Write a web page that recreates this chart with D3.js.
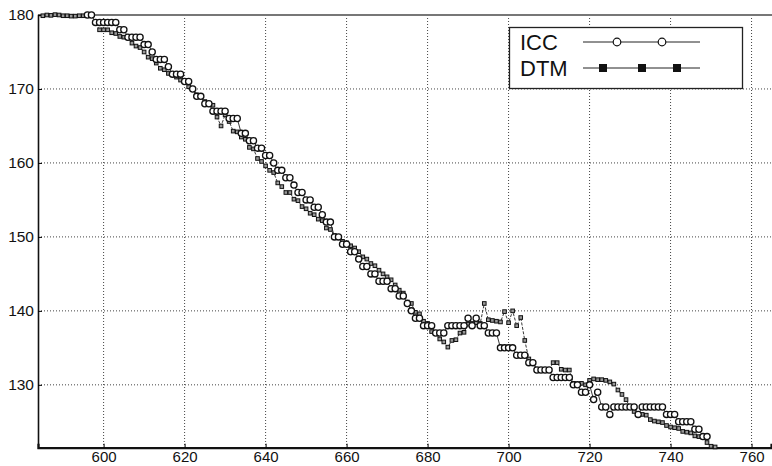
<!DOCTYPE html>
<html><head><meta charset="utf-8">
<script src="https://cdn.jsdelivr.net/npm/d3@7/dist/d3.min.js"></script>
<style>body{margin:0;background:#fff;}svg{display:block;font-family:"Liberation Sans",Arial,sans-serif;}</style>
</head><body>
<svg id="c" width="772" height="466"></svg>
<script>
const xStart = 585;
const xTicks = [600,620,640,660,680,700,720,740,760];
const yTicks = [130,140,150,160,170,180];
const seriesNames = ["ICC","DTM"];
// ICC values for x = 585..751 (null = no point)
const icc = [
 null,null,null,null,null,null,null,null,null,null,null, // 585-595
 180,180,179,179,179,179,179,179,178,178, // 596-605
 177,177,177,177,176,176,175,174,174,174, // 606-615
 173,172,172,172,171,171,170,169,169,168, // 616-625
 168,167,167,167,167,166,166,166,164,164, // 626-635
 163,163,162,162,161,161,160,159,159,158, // 636-645
 158,157,156,156,155,155,154,154,153,152, // 646-655
 152,150,150,149,149,148,148,147,146,146, // 656-665
 145,145,144,144,144,143,143,142,142,141, // 666-675
 140,139,139,138,138,138,137,137,137,138, // 676-685
 138,138,138,138,139,138,139,138,138,137, // 686-695
 137,137,135,135,135,135,134,134,134,133, // 696-705
 133,132,132,132,132,131,131,131,131,131, // 706-715
 130,130,129,129,130,128,129,127,127,126, // 716-725
 127,127,127,127,127,127,126,127,127,127, // 726-735
 127,127,127,126,126,126,125,125,125,125, // 736-745
 124,124,123,123,null,null                // 746-751
];
// DTM values for x = 585..751
const dtm = [
 179.9,180,179.95,180.05,180,179.9,179.9,179.85,179.85,179.9, // 585-594
 179.9,180,180,179,178,178,178,177.6,177.5,177.1, // 595-604
 177,176.9,176.2,175.8,175.6,175,174.3,174.1,173.5,172.8, // 605-614
 172.6,172.1,172,171.6,171.2,171,170.3,170.1,169.2,169, // 615-624
 168.3,168,167.8,166.2,165,166.5,165.6,164.3,164.2,163.5, // 625-634
 163.2,162.1,161.9,160.6,160.2,159.6,159,158.7,157.3,156.8, // 635-644
 156,156,155.1,154.9,154.1,153.8,153.2,153,152.4,152.2, // 645-654
 151.2,151,150.2,150,149.4,149.2,148.8,148.5,148,147.3, // 655-664
 147,146.4,146.1,145.5,145,144.6,144.2,143.5,142.8,142.4, // 665-674
 141.2,141,139.8,139.6,138.6,138.3,137.2,137,136.2,135.8, // 675-684
 135.1,136,136.1,137,137.1,138.2,138.3,138.4,138.3,141, // 685-694
 138.8,138.7,138.6,138.5,139.9,138.4,140,138,139.1,136, // 695-704
 133.5,133,132.1,132.1,132,132,133,133,132.1,132, // 705-714
 132,130.2,130.1,130.2,130,130.6,130.8,130.7,130.7,130.6, // 715-724
 130.4,130.1,129.3,128.7,128,127,126.4,126.1,126,125.9, // 725-734
 125.3,125.1,125,124.9,124.5,124.3,124.2,124.1,123.7,123.6, // 735-744
 123.5,123.1,123,122.9,122.2,121.7,121.6 // 745-751
];
const xs = dtm.map((d,i)=>xStart+i);

const svg = d3.select("#c");
const L=38, R=771, T=15, B=447.7;
const x = d3.scaleLinear().domain([583.8,764.8]).range([L,R]);
const y = d3.scaleLinear().domain([121.5,180]).range([B,T]);

// gridlines
const grid = svg.append("g");
grid.selectAll("line.v").data(xTicks).join("line")
 .attr("x1",d=>x(d)).attr("x2",d=>x(d)).attr("y1",T).attr("y2",B)
 .attr("stroke","#444").attr("stroke-width",1).attr("stroke-dasharray","1,2");
grid.selectAll("line.h").data(yTicks.filter(d=>d<180)).join("line")
 .attr("x1",L).attr("x2",R).attr("y1",d=>y(d)).attr("y2",d=>y(d))
 .attr("stroke","#444").attr("stroke-width",1).attr("stroke-dasharray","1,2");

// top frame
svg.append("line").attr("x1",L).attr("x2",772).attr("y1",T).attr("y2",T)
 .attr("stroke","#777").attr("stroke-width",2);

// axes
const xAxis = d3.axisBottom(x).tickValues(xTicks).tickSize(-4).tickPadding(4).tickFormat(d3.format("d"));
const gx = svg.append("g").attr("transform",`translate(0,${B})`).call(xAxis);
gx.select(".domain").attr("stroke","#111").attr("stroke-width",2.2);
gx.selectAll("text").attr("font-size",15).attr("fill","#111").attr("font-family","Liberation Sans, Arial, sans-serif");
const yAxis = d3.axisLeft(y).tickValues(yTicks).tickSize(-4).tickPadding(4).tickFormat(d3.format("d"));
const gy = svg.append("g").attr("transform",`translate(${L},0)`).call(yAxis);
gy.select(".domain").attr("stroke","#111").attr("stroke-width",1.6);
gy.selectAll("text").attr("font-size",15.5).attr("fill","#111").attr("font-family","Liberation Sans, Arial, sans-serif");

const ptsI = xs.map((v,i)=>({x:v,y:icc[i]})).filter(d=>d.y!=null);
const ptsD = xs.map((v,i)=>({x:v,y:dtm[i]}));
const line = d3.line().x(d=>x(d.x)).y(d=>y(d.y));

svg.append("path").datum(ptsD).attr("d",line).attr("fill","none")
 .attr("stroke","#222").attr("stroke-width",0.9).attr("stroke-dasharray","3,1.5");
svg.append("path").datum(ptsI).attr("d",line).attr("fill","none")
 .attr("stroke","#222").attr("stroke-width",0.9);

svg.append("g").selectAll("rect").data(ptsD).join("rect")
 .attr("x",d=>x(d.x)-1.8).attr("y",d=>y(d.y)-1.8).attr("width",3.6).attr("height",3.6)
 .attr("fill","#999").attr("stroke","#111").attr("stroke-width",1);
svg.append("g").selectAll("circle").data(ptsI).join("circle")
 .attr("cx",d=>x(d.x)).attr("cy",d=>y(d.y)).attr("r",3.1)
 .attr("fill","#fff").attr("stroke","#111").attr("stroke-width",1.3);

// legend
const lg = svg.append("g");
lg.append("rect").attr("x",509.5).attr("y",27.5).attr("width",233).attr("height",61)
 .attr("fill","#fff").attr("stroke","#222").attr("stroke-width",1.3);
const legY = [42,68];
lg.selectAll("text").data(seriesNames).join("text")
 .attr("x",520).attr("y",(d,i)=>legY[i]+8).attr("font-size",22).attr("fill","#111").text(d=>d);
lg.selectAll("line").data(seriesNames).join("line")
 .attr("x1",583).attr("x2",700).attr("y1",(d,i)=>legY[i]).attr("y2",(d,i)=>legY[i])
 .attr("stroke","#222").attr("stroke-width",1);
lg.selectAll("circle").data([617,662]).join("circle")
 .attr("cx",d=>d).attr("cy",legY[0]).attr("r",3.8).attr("fill","#fff").attr("stroke","#111").attr("stroke-width",1.2);
lg.selectAll("rect.m").data([603,642,677]).join("rect").attr("class","m")
 .attr("x",d=>d-4).attr("y",legY[1]-4).attr("width",8).attr("height",8).attr("fill","#111");
</script>
</body></html>
